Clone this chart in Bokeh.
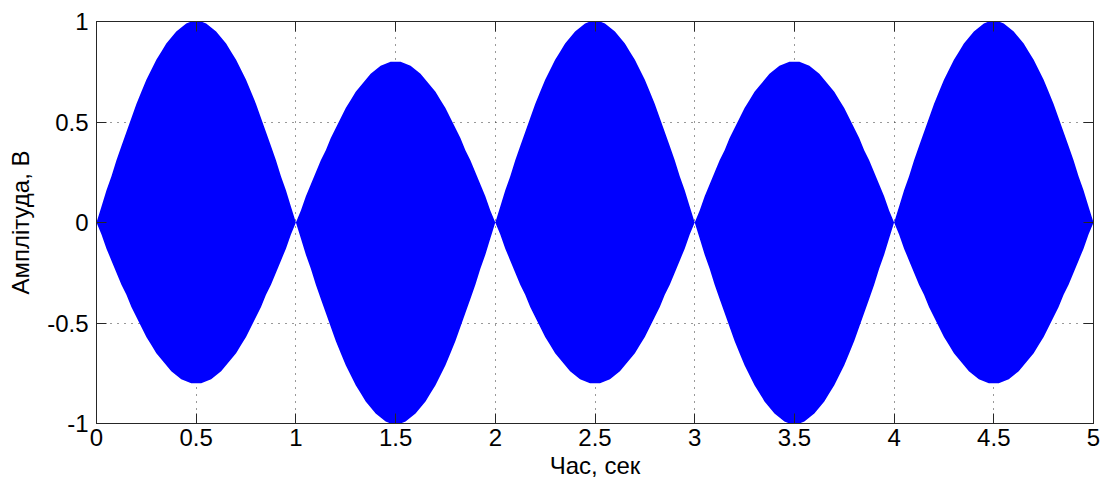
from bokeh.plotting import figure
from bokeh.models import FixedTicker, CustomJSTickFormatter, LinearAxis, ColumnDataSource
from bokeh.embed import file_html
from bokeh.resources import INLINE

# time samples (s), step 0.025 s
t = [i * 0.025 for i in range(201)]

# upper envelope of the signal (V)
upper = [
    0.00, 0.08, 0.16, 0.23, 0.31, 0.38, 0.45, 0.52, 0.59, 0.65, 0.71, 0.76, 0.81, 0.85, 0.89, 0.92, 0.95, 0.97, 0.99, 1.00,
    1.00, 1.00, 0.99, 0.97, 0.95, 0.92, 0.89, 0.85, 0.81, 0.76, 0.71, 0.65, 0.59, 0.52, 0.45, 0.38, 0.31, 0.23, 0.16, 0.08,
    0.00, 0.06, 0.13, 0.19, 0.25, 0.31, 0.36, 0.42, 0.47, 0.52, 0.57, 0.61, 0.65, 0.68, 0.71, 0.74, 0.76, 0.78, 0.79, 0.80,
    0.80, 0.80, 0.79, 0.78, 0.76, 0.74, 0.71, 0.68, 0.65, 0.61, 0.57, 0.52, 0.47, 0.42, 0.36, 0.31, 0.25, 0.19, 0.13, 0.06,
    0.00, 0.08, 0.16, 0.23, 0.31, 0.38, 0.45, 0.52, 0.59, 0.65, 0.71, 0.76, 0.81, 0.85, 0.89, 0.92, 0.95, 0.97, 0.99, 1.00,
    1.00, 1.00, 0.99, 0.97, 0.95, 0.92, 0.89, 0.85, 0.81, 0.76, 0.71, 0.65, 0.59, 0.52, 0.45, 0.38, 0.31, 0.23, 0.16, 0.08,
    0.00, 0.06, 0.13, 0.19, 0.25, 0.31, 0.36, 0.42, 0.47, 0.52, 0.57, 0.61, 0.65, 0.68, 0.71, 0.74, 0.76, 0.78, 0.79, 0.80,
    0.80, 0.80, 0.79, 0.78, 0.76, 0.74, 0.71, 0.68, 0.65, 0.61, 0.57, 0.52, 0.47, 0.42, 0.36, 0.31, 0.25, 0.19, 0.13, 0.06,
    0.00, 0.08, 0.16, 0.23, 0.31, 0.38, 0.45, 0.52, 0.59, 0.65, 0.71, 0.76, 0.81, 0.85, 0.89, 0.92, 0.95, 0.97, 0.99, 1.00,
    1.00, 1.00, 0.99, 0.97, 0.95, 0.92, 0.89, 0.85, 0.81, 0.76, 0.71, 0.65, 0.59, 0.52, 0.45, 0.38, 0.31, 0.23, 0.16, 0.08,
    0.00,
]
# lower envelope of the signal (V)
lower = [
    0.00, -0.06, -0.13, -0.19, -0.25, -0.31, -0.36, -0.42, -0.47, -0.52, -0.57, -0.61, -0.65, -0.68, -0.71, -0.74, -0.76, -0.78, -0.79, -0.80,
    -0.80, -0.80, -0.79, -0.78, -0.76, -0.74, -0.71, -0.68, -0.65, -0.61, -0.57, -0.52, -0.47, -0.42, -0.36, -0.31, -0.25, -0.19, -0.13, -0.06,
    0.00, -0.08, -0.16, -0.23, -0.31, -0.38, -0.45, -0.52, -0.59, -0.65, -0.71, -0.76, -0.81, -0.85, -0.89, -0.92, -0.95, -0.97, -0.99, -1.00,
    -1.00, -1.00, -0.99, -0.97, -0.95, -0.92, -0.89, -0.85, -0.81, -0.76, -0.71, -0.65, -0.59, -0.52, -0.45, -0.38, -0.31, -0.23, -0.16, -0.08,
    0.00, -0.06, -0.13, -0.19, -0.25, -0.31, -0.36, -0.42, -0.47, -0.52, -0.57, -0.61, -0.65, -0.68, -0.71, -0.74, -0.76, -0.78, -0.79, -0.80,
    -0.80, -0.80, -0.79, -0.78, -0.76, -0.74, -0.71, -0.68, -0.65, -0.61, -0.57, -0.52, -0.47, -0.42, -0.36, -0.31, -0.25, -0.19, -0.13, -0.06,
    0.00, -0.08, -0.16, -0.23, -0.31, -0.38, -0.45, -0.52, -0.59, -0.65, -0.71, -0.76, -0.81, -0.85, -0.89, -0.92, -0.95, -0.97, -0.99, -1.00,
    -1.00, -1.00, -0.99, -0.97, -0.95, -0.92, -0.89, -0.85, -0.81, -0.76, -0.71, -0.65, -0.59, -0.52, -0.45, -0.38, -0.31, -0.23, -0.16, -0.08,
    0.00, -0.06, -0.13, -0.19, -0.25, -0.31, -0.36, -0.42, -0.47, -0.52, -0.57, -0.61, -0.65, -0.68, -0.71, -0.74, -0.76, -0.78, -0.79, -0.80,
    -0.80, -0.80, -0.79, -0.78, -0.76, -0.74, -0.71, -0.68, -0.65, -0.61, -0.57, -0.52, -0.47, -0.42, -0.36, -0.31, -0.25, -0.19, -0.13, -0.06,
    0.00,
]

x_ticks = [0, 0.5, 1, 1.5, 2, 2.5, 3, 3.5, 4, 4.5, 5]
y_ticks = [-1, -0.5, 0, 0.5, 1]
x_label = "Час, сек"
y_label = "Амплітуда, В"

FONT = "Liberation Sans"
TICK_SIZE = "24px"
LABEL_SIZE = "24px"
FRAME = "#262626"

p = figure(width=1103, height=491, output_backend="svg", toolbar_location=None,
           x_range=(0, 5), y_range=(-1, 1),
           min_border_left=96, min_border_right=10, min_border_top=21, min_border_bottom=68,
           x_axis_label=x_label, y_axis_label=y_label)
p.background_fill_color = "white"
p.border_fill_color = "white"
p.outline_line_color = FRAME
p.outline_line_width = 1

src = ColumnDataSource(dict(t=t, upper=upper, lower=lower))
p.varea(x="t", y1="lower", y2="upper", source=src, fill_color="#0000ff")

fmt = CustomJSTickFormatter(code="return String(tick)")
for ax, ticks in ((p.xaxis[0], x_ticks), (p.yaxis[0], y_ticks)):
    ax.ticker = FixedTicker(ticks=ticks)
    ax.formatter = fmt
    ax.major_tick_in = 10
    ax.major_tick_out = 0
    ax.minor_tick_in = 0
    ax.minor_tick_out = 0
    ax.axis_line_color = FRAME
    ax.major_tick_line_color = FRAME
    ax.major_label_text_font = FONT
    ax.major_label_text_font_size = TICK_SIZE
    ax.major_label_text_color = "black"
    ax.axis_label_text_font = FONT
    ax.axis_label_text_font_size = LABEL_SIZE
    ax.axis_label_text_font_style = "normal"
    ax.axis_label_text_color = "black"
p.xaxis[0].major_label_standoff = 5
p.xaxis[0].axis_label_standoff = 3
p.yaxis[0].major_label_standoff = 8
p.yaxis[0].axis_label_standoff = 10

blank = CustomJSTickFormatter(code="return ''")
for loc, ticks in (("above", x_ticks), ("right", y_ticks)):
    ax = LinearAxis(ticker=FixedTicker(ticks=ticks), formatter=blank)
    ax.major_tick_in = 10
    ax.major_tick_out = 0
    ax.minor_tick_in = 0
    ax.minor_tick_out = 0
    ax.axis_line_color = FRAME
    ax.major_tick_line_color = FRAME
    ax.major_label_standoff = 0
    p.add_layout(ax, loc)

for g, ticks in ((p.xgrid[0], x_ticks), (p.ygrid[0], y_ticks)):
    g.ticker = FixedTicker(ticks=ticks)
    g.grid_line_color = "#333333"
    g.grid_line_dash = "1 6"
    g.grid_line_width = 1
    g.level = "underlay"

open("out.html", "w").write(file_html(p, INLINE))
